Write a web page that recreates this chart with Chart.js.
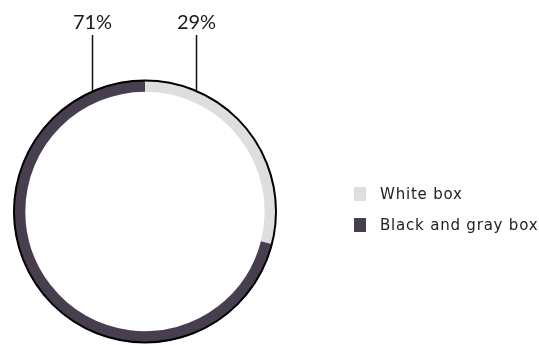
<!DOCTYPE html>
<html>
<head>
<meta charset="utf-8">
<script src="https://cdn.jsdelivr.net/npm/chart.js@4/dist/chart.umd.min.js"></script>
<style>
  html, body { margin: 0; padding: 0; background: #fff; }
  #wrap { width: 539px; height: 345px; position: relative; }
</style>
</head>
<body>
<div id="wrap"><canvas id="grafico"></canvas></div>
<script>
// dados
const categorias = ["White box", "Black and gray box"];
const valores = [29, 71];
const cores = ["#dedee0", "#473f50"];
// angle (deg from top, clockwise) where each label's leader line meets the ring
const anguloRotulo = [23, -24];

// rotulos com linha + contorno externo + legenda
const extras = {
  id: "extras",
  afterDatasetsDraw(chart) {
    const ctx = chart.ctx;
    const arco = chart.getDatasetMeta(0).data[0];
    const cx = arco.x, cy = arco.y, r = arco.outerRadius;

    ctx.save();
    // contorno preto externo
    ctx.beginPath();
    ctx.arc(cx, cy, r - 0.5, 0, Math.PI * 2);
    ctx.lineWidth = 2;
    ctx.strokeStyle = "#000";
    ctx.stroke();

    // percentuais
    const total = valores.reduce((a, b) => a + b, 0);
    ctx.font = "20px Lato, sans-serif";
    ctx.fillStyle = "#1a1a1a";
    ctx.textAlign = "center";
    ctx.textBaseline = "alphabetic";
    valores.forEach((v, i) => {
      const a = anguloRotulo[i] * Math.PI / 180;
      const x = Math.round(cx + r * Math.sin(a)) + 0.5;
      const y = cy - r * Math.cos(a);
      ctx.beginPath();
      ctx.moveTo(x, 35);
      ctx.lineTo(x, y);
      ctx.lineWidth = 1.5;
      ctx.strokeStyle = "#111";
      ctx.stroke();
      ctx.fillText(Math.round(v / total * 100) + "%", x, 29);
    });

    // legenda
    ctx.font = "15px 'DejaVu Sans', sans-serif";
    ctx.letterSpacing = "0.8px";
    ctx.textAlign = "left";
    ctx.textBaseline = "middle";
    categorias.forEach((c, i) => {
      const y = 194 + i * 31;
      ctx.fillStyle = cores[i];
      ctx.fillRect(354, y - 7, 12, 14);
      ctx.fillStyle = "#222";
      ctx.fillText(c, 380, y + 1);
    });
    ctx.restore();
  }
};

new Chart(document.getElementById("grafico").getContext("2d"), {
  type: "doughnut",
  data: {
    labels: categorias,
    datasets: [{
      data: valores,
      backgroundColor: cores,
      borderWidth: 0
    }]
  },
  options: {
    responsive: true,
    maintainAspectRatio: false,
    animation: false,
    cutout: "91%",
    layout: { padding: { left: 13, top: 80, right: 262, bottom: 2 } },
    plugins: {
      legend: { display: false },
      tooltip: { enabled: false }
    }
  },
  plugins: [extras]
});
</script>
</body>
</html>
